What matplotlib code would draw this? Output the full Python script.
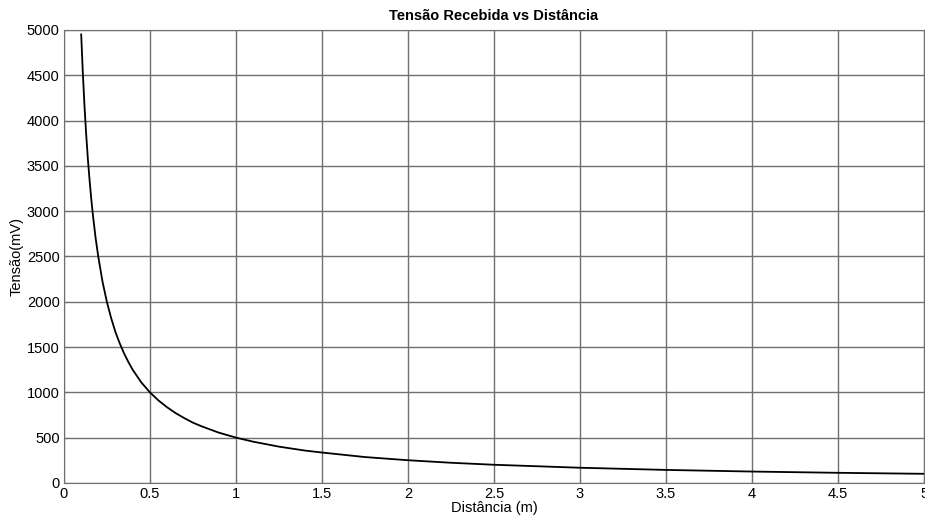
import matplotlib
matplotlib.use("Agg")
import matplotlib.pyplot as plt

# distance (m) and received voltage (mV)
distancia = [0.101, 0.11, 0.12, 0.13, 0.14, 0.15, 0.16, 0.17, 0.185, 0.2, 0.225,
             0.25, 0.275, 0.3, 0.325, 0.35, 0.375, 0.4, 0.45, 0.5, 0.55, 0.6,
             0.65, 0.7, 0.75, 0.8, 0.9, 1.0, 1.1, 1.25, 1.4, 1.5, 1.75, 2.0,
             2.25, 2.5, 3.0, 3.5, 4.0, 4.5, 5.0]
tensao = [4950, 4545, 4165, 3845, 3570, 3335, 3125, 2940, 2700, 2500, 2220,
          2000, 1820, 1665, 1540, 1430, 1335, 1250, 1110, 1000, 910, 835,
          770, 715, 665, 625, 555, 500, 455, 400, 357, 335, 285, 250,
          222, 200, 167, 143, 125, 111, 100]

xticks = [0, 0.5, 1, 1.5, 2, 2.5, 3, 3.5, 4, 4.5, 5]
xtick_labels = ['0', '0.5', '1', '1.5', '2', '2.5', '3', '3.5', '4', '4.5', '5']
yticks = list(range(0, 5001, 500))

plt.rcParams['font.family'] = ['Liberation Sans', 'DejaVu Sans']

fig = plt.figure(figsize=(9.25, 5.26), dpi=100)
ax = fig.add_axes([0.069, 0.082, 0.93, 0.861])

ax.plot(distancia, tensao, color='black', lw=1.3)

ax.set_xlim(0, 5)
ax.set_ylim(0, 5000)
ax.set_xticks(xticks)
ax.set_xticklabels(xtick_labels)
ax.set_yticks(yticks)
ax.grid(True, color='#707070', lw=1.0)
ax.set_axisbelow(True)
for s in ax.spines.values():
    s.set_color('#707070')
ax.tick_params(direction='in', length=3, color='#707070', labelsize=10.5, pad=3)

ax.set_title('Tensão Recebida vs Distância', fontsize=10.5, fontweight='bold', pad=7)
ax.set_xlabel('Distância (m)', fontsize=10.5, labelpad=0)
ax.set_ylabel('Tensão(mV)', fontsize=10.5, labelpad=2)

fig.savefig('out.png', dpi=100)
